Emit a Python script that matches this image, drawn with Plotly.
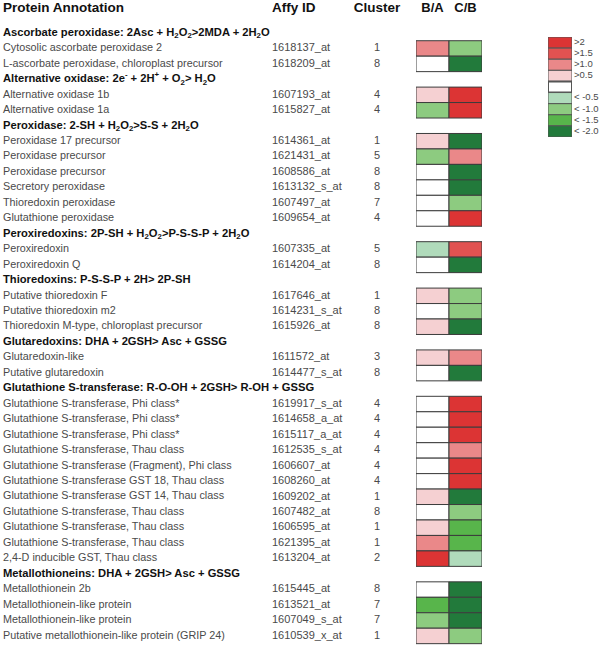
import plotly.graph_objects as go

# ---------------- data ----------------
group_titles = [
    "Ascorbate peroxidase: 2Asc + H<sub>2</sub>O<sub>2</sub>&gt;2MDA + 2H<sub>2</sub>O",
    "Alternative oxidase: 2e<sup>-</sup> + 2H<sup>+</sup> + O<sub>2</sub>&gt; H<sub>2</sub>O",
    "Peroxidase: 2-SH + H<sub>2</sub>O<sub>2</sub>&gt;S-S + 2H<sub>2</sub>O",
    "Peroxiredoxins: 2P-SH + H<sub>2</sub>O<sub>2</sub>&gt;P-S-S-P + 2H<sub>2</sub>O",
    "Thioredoxins: P-S-S-P + 2H&gt; 2P-SH",
    "Glutaredoxins: DHA + 2GSH&gt; Asc + GSSG",
    "Glutathione S-transferase: R-O-OH + 2GSH&gt; R-OH + GSSG",
    "Metallothioneins: DHA + 2GSH&gt; Asc + GSSG",
]

group_of_row = [0, 0,
                1, 1,
                2, 2, 2, 2, 2, 2,
                3, 3,
                4, 4, 4,
                5, 5,
                6, 6, 6, 6, 6, 6, 6, 6, 6, 6, 6,
                7, 7, 7, 7]

protein_annotation = [
    "Cytosolic ascorbate peroxidase 2",
    "L-ascorbate peroxidase, chloroplast precursor",
    "Alternative oxidase 1b",
    "Alternative oxidase 1a",
    "Peroxidase 17 precursor",
    "Peroxidase precursor",
    "Peroxidase precursor",
    "Secretory peroxidase",
    "Thioredoxin peroxidase",
    "Glutathione peroxidase",
    "Peroxiredoxin",
    "Peroxiredoxin Q",
    "Putative thioredoxin F",
    "Putative thioredoxin m2",
    "Thioredoxin M-type, chloroplast precursor",
    "Glutaredoxin-like",
    "Putative glutaredoxin",
    "Glutathione S-transferase, Phi class*",
    "Glutathione S-transferase, Phi class*",
    "Glutathione S-transferase, Phi class*",
    "Glutathione S-transferase, Thau class",
    "Glutathione S-transferase (Fragment), Phi class",
    "Glutathione S-transferase GST 18, Thau class",
    "Glutathione S-transferase GST 14, Thau class",
    "Glutathione S-transferase, Thau class",
    "Glutathione S-transferase, Thau class",
    "Glutathione S-transferase, Thau class",
    "2,4-D inducible GST, Thau class",
    "Metallothionein 2b",
    "Metallothionein-like protein",
    "Metallothionein-like protein",
    "Putative metallothionein-like protein (GRIP 24)",
]

affy_id = [
    "1618137_at", "1618209_at",
    "1607193_at", "1615827_at",
    "1614361_at", "1621431_at", "1608586_at", "1613132_s_at", "1607497_at", "1609654_at",
    "1607335_at", "1614204_at",
    "1617646_at", "1614231_s_at", "1615926_at",
    "1611572_at", "1614477_s_at",
    "1619917_s_at", "1614658_a_at", "1615117_a_at", "1612535_s_at", "1606607_at",
    "1608260_at", "1609202_at", "1607482_at", "1606595_at", "1621395_at", "1613204_at",
    "1615445_at", "1613521_at", "1607049_s_at", "1610539_x_at",
]

cluster = [1, 8,
           4, 4,
           1, 5, 8, 8, 7, 4,
           5, 8,
           1, 8, 8,
           3, 8,
           4, 4, 4, 4, 4, 4, 1, 8, 1, 1, 2,
           8, 7, 7, 1]

# log-ratio class
b_over_a = [1.25, 0,
            0.75, -1.25,
            0.75, -1.25, 0, 0, 0, 0,
            -0.75, 0,
            0.75, 0, 0.75,
            0.75, 0,
            0, 0, 0, 0, 0, 0, 0.75, 0, 0.75, 1.25, 2.5,
            0, -1.75, -1.25, 0.75]

c_over_b = [-1.25, -2.5,
            2.5, 2.5,
            -2.5, 1.25, -2.5, -2.5, -1.25, 2.5,
            1.75, -2.5,
            -1.25, -1.25, -2.5,
            1.25, -2.5,
            2.5, 2.5, 2.5, 1.25, 2.5, 2.5, -2.5, -1.25, -1.75, -1.75, -0.75,
            -2.5, -2.5, -2.5, -1.25]

column_labels = ["B/A", "C/B"]
header_labels = ["Protein Annotation", "Affy ID", "Cluster"]

legend_labels = ["&gt;2", "&gt;1.5", "&gt;1.0", "&gt;0.5", "",
                 "&lt; -0.5", "&lt; -1.0", "&lt; -1.5", "&lt; -2.0"]
legend_values = [2.5, 1.75, 1.25, 0.75, 0, -0.75, -1.25, -1.75, -2.5]

# ---------------- styling ----------------
RED4, RED3, RED2, RED1 = "#dc3434", "#e15251", "#ea8889", "#f5d0d2"
WHITE = "#ffffff"
GRN1, GRN2, GRN3, GRN4 = "#b0dbbb", "#8dcb80", "#58b54b", "#227a3b"


def color_for(v):
    if v > 2:
        return RED4
    if v > 1.5:
        return RED3
    if v > 1.0:
        return RED2
    if v > 0.5:
        return RED1
    if v < -2.0:
        return GRN4
    if v < -1.5:
        return GRN3
    if v < -1.0:
        return GRN2
    if v < -0.5:
        return GRN1
    return WHITE


FONT = "Liberation Sans, Arial, sans-serif"
TXT = "#4a4a4a"

# line positions (row units)
header_lines, row_lines = [], []
line = 0
for g in range(len(group_titles)):
    line += 1
    header_lines.append(line)
    for gi in group_of_row:
        if gi == g:
            line += 1
            row_lines.append(line)

fig = go.Figure()

# heatmap cells as bordered bars
for ci, vals in enumerate([b_over_a, c_over_b]):
    fig.add_trace(go.Bar(
        orientation="h", y=row_lines, x=[1] * len(vals), base=[ci - 0.5] * len(vals),
        width=1, marker=dict(color=[color_for(v) for v in vals],
                             line=dict(color="#3c3c3c", width=1)),
        xaxis="x2", yaxis="y", hoverinfo="skip", showlegend=False))

# column headers over the cells
fig.add_trace(go.Scatter(
    x=[0, 1], y=[-0.6, -0.6], text=[f"<b>{t}</b>" for t in column_labels], mode="text",
    textposition="middle center", textfont=dict(family=FONT, size=13, color="#111"),
    xaxis="x2", yaxis="y", hoverinfo="skip", showlegend=False))

# table headers
fig.add_trace(go.Scatter(
    x=[3, 272, 377], y=[-0.55] * 3, text=[f"<b>{t}</b>" for t in header_labels],
    mode="text", textposition=["middle right", "middle right", "middle center"],
    textfont=dict(family=FONT, size=13.5, color="#111"),
    xaxis="x", yaxis="y", hoverinfo="skip", showlegend=False))

# group titles
fig.add_trace(go.Scatter(
    x=[3] * len(group_titles), y=header_lines, text=[f"<b>{t}</b>" for t in group_titles],
    mode="text", textposition="middle right",
    textfont=dict(family=FONT, size=11.2, color="#111"),
    xaxis="x", yaxis="y", hoverinfo="skip", showlegend=False))

# row texts
fig.add_trace(go.Scatter(
    x=[3] * len(protein_annotation), y=row_lines, text=protein_annotation,
    mode="text", textposition="middle right",
    textfont=dict(family=FONT, size=10.8, color=TXT),
    xaxis="x", yaxis="y", hoverinfo="skip", showlegend=False))
fig.add_trace(go.Scatter(
    x=[272] * len(affy_id), y=row_lines, text=affy_id,
    mode="text", textposition="middle right",
    textfont=dict(family=FONT, size=11, color=TXT),
    xaxis="x", yaxis="y", hoverinfo="skip", showlegend=False))
fig.add_trace(go.Scatter(
    x=[377] * len(cluster), y=row_lines, text=[str(c) for c in cluster],
    mode="text", textposition="middle center",
    textfont=dict(family=FONT, size=11, color=TXT),
    xaxis="x", yaxis="y", hoverinfo="skip", showlegend=False))

# colour key
n_leg = len(legend_values)
fig.add_trace(go.Bar(
    orientation="h", y=list(range(n_leg)), x=[1] * n_leg, base=[0] * n_leg, width=1,
    marker=dict(color=[color_for(v) for v in legend_values],
                line=dict(color="#555555", width=[1, 1, 1, 1, 2, 1, 1, 1, 1])),
    xaxis="x3", yaxis="y3", hoverinfo="skip", showlegend=False))
leg_idx = [i for i, t in enumerate(legend_labels) if t]
fig.add_trace(go.Scatter(
    x=[574] * len(leg_idx), y=leg_idx, text=[legend_labels[i] for i in leg_idx], mode="text",
    textposition="middle right", textfont=dict(family=FONT, size=9.5, color=TXT),
    xaxis="x", yaxis="y3", hoverinfo="skip", showlegend=False))

ax = dict(visible=False, fixedrange=True, showgrid=False, zeroline=False)
fig.update_layout(
    width=600, height=645, margin=dict(l=0, r=0, t=0, b=0),
    paper_bgcolor="white", plot_bgcolor="rgba(0,0,0,0)",
    barmode="overlay", showlegend=False,
    xaxis=dict(ax, domain=[0, 1], range=[0, 600]),
    yaxis=dict(ax, domain=[0, 1], range=[40.586, -1.134]),
    xaxis2=dict(ax, domain=[416 / 600, 482 / 600], range=[-0.5, 1.5], anchor="y"),
    xaxis3=dict(ax, domain=[548 / 600, 572 / 600], range=[0, 1], anchor="y3"),
    yaxis3=dict(ax, domain=[1 - 137 / 645, 1 - 37 / 645], range=[8.5, -0.5], anchor="x3"),
)

fig.write_html("out.html", config={"displayModeBar": False},
               post_script="document.body.style.margin='0';document.body.style.overflow='hidden';")
